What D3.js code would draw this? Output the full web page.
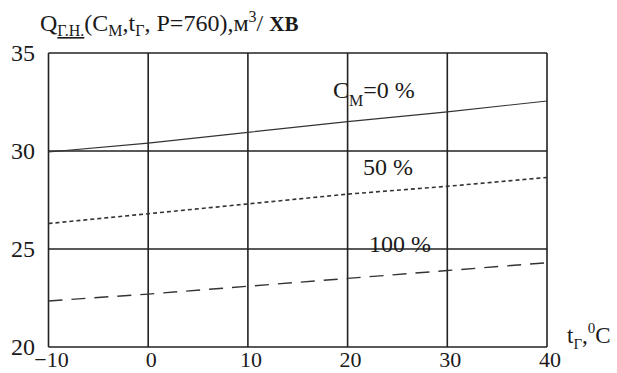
<!DOCTYPE html>
<html lang="uk">
<head>
	<meta charset="utf-8">
	<title>Q г.н. chart</title>
	<script src='https://d3js.org/d3.v7.min.js'></script>
	<style>
	body { margin: 0; background: #fff; }
	svg text { font-family: "Liberation Serif", "Times New Roman", "DejaVu Serif", serif; fill: #1a1a1a; }
	</style>
</head>
<body>
	<div id="chart"></div>
	<script>
		// temperature tГ, °C
		let temps = [-10, 0, 10, 20, 30, 40];
		// Q for Cм = 0 %, 50 %, 100 %
		let q0 = [29.95, 30.4, 30.95, 31.5, 32.0, 32.55];
		let q50 = [26.3, 26.8, 27.3, 27.8, 28.2, 28.65];
		let q100 = [22.35, 22.7, 23.1, 23.5, 23.9, 24.3];
		let xTicks = [-10, 0, 10, 20, 30, 40];
		let yTicks = [20, 25, 30, 35];

		let width = 617, height = 373;
		let pLeft = 48.5, pRight = 547, pTop = 53, pBottom = 347;

		let svg = d3.select("#chart")
					.append("svg")
					.attr("width", width)
					.attr("height", height)
					.style("display", "block");

		let x = d3.scaleLinear().domain([-10, 40]).range([pLeft, pRight]);
		let y = d3.scaleLinear().domain([20, 35]).range([pBottom, pTop]);

		// grid
		svg.append("g").selectAll("line.v")
			.data(xTicks)
			.enter().append("line")
			.attr("x1", d => x(d)).attr("x2", d => x(d))
			.attr("y1", pTop).attr("y2", pBottom)
			.attr("stroke", "#222").attr("stroke-width", 1.6);
		svg.append("g").selectAll("line.h")
			.data(yTicks)
			.enter().append("line")
			.attr("x1", pLeft).attr("x2", pRight)
			.attr("y1", d => y(d)).attr("y2", d => y(d))
			.attr("stroke", "#222").attr("stroke-width", 1.6);

		// tick labels
		svg.append("g").selectAll("text")
			.data(yTicks)
			.enter().append("text")
			.attr("x", 35)
			.attr("y", d => y(d) + 8)
			.attr("text-anchor", "end")
			.attr("font-size", 24)
			.text(d => d);
		svg.append("g").selectAll("text")
			.data(xTicks)
			.enter().append("text")
			.attr("x", d => x(d) + 3)
			.attr("y", 367)
			.attr("text-anchor", "middle")
			.attr("font-size", 22)
			.text(d => d < 0 ? "\u2212" + Math.abs(d) : d);

		// curves
		let line = d3.line()
			.x((d, i) => x(temps[i]))
			.y(d => y(d));
		svg.append("path").datum(q0)
			.attr("fill", "none").attr("stroke", "#333").attr("stroke-width", 1.2)
			.attr("d", line);
		svg.append("path").datum(q50)
			.attr("fill", "none").attr("stroke", "#333").attr("stroke-width", 1.6)
			.attr("stroke-dasharray", "4,3")
			.attr("d", line);
		svg.append("path").datum(q100)
			.attr("fill", "none").attr("stroke", "#333").attr("stroke-width", 1.4)
			.attr("stroke-dasharray", "14,9")
			.attr("d", line);

		// curve labels
		let l0 = svg.append("text").attr("x", 333).attr("y", 98).attr("font-size", 24);
		l0.append("tspan").text("C");
		l0.append("tspan").attr("font-size", 16).attr("dy", 8).text("М");
		l0.append("tspan").attr("dy", -8).text("=0 %");
		svg.append("text").attr("x", 363).attr("y", 175).attr("font-size", 24).text("50 %");
		svg.append("text").attr("x", 369).attr("y", 252).attr("font-size", 24).text("100 %");

		// axis title
		let t = svg.append("text").attr("x", 40).attr("y", 31).attr("font-size", 24);
		t.append("tspan").text("Q");
		t.append("tspan").attr("font-size", 16).attr("dy", 5).attr("text-decoration", "underline").text("Г.Н.");
		t.append("tspan").attr("dy", -5).text("(C");
		t.append("tspan").attr("font-size", 16).attr("dy", 5).text("М");
		t.append("tspan").attr("dy", -5).text(",t");
		t.append("tspan").attr("font-size", 16).attr("dy", 5).text("Г");
		t.append("tspan").attr("dy", -5).text(", P=760),м");
		t.append("tspan").attr("font-size", 16).attr("dy", -9).text("3");
		t.append("tspan").attr("dy", 9).text("/ ");
		t.append("tspan").attr("font-weight", "bold").attr("font-size", 21).text("ХВ");

		// x axis title
		let xt = svg.append("text").attr("x", 567).attr("y", 343).attr("font-size", 23);
		xt.append("tspan").text("t");
		xt.append("tspan").attr("font-size", 15).attr("dy", 6).text("Г");
		xt.append("tspan").attr("dy", -6).text(",");
		xt.append("tspan").attr("font-size", 15).attr("dy", -10).text("0");
		xt.append("tspan").attr("dy", 10).text("C");
	</script>
</body>
</html>
